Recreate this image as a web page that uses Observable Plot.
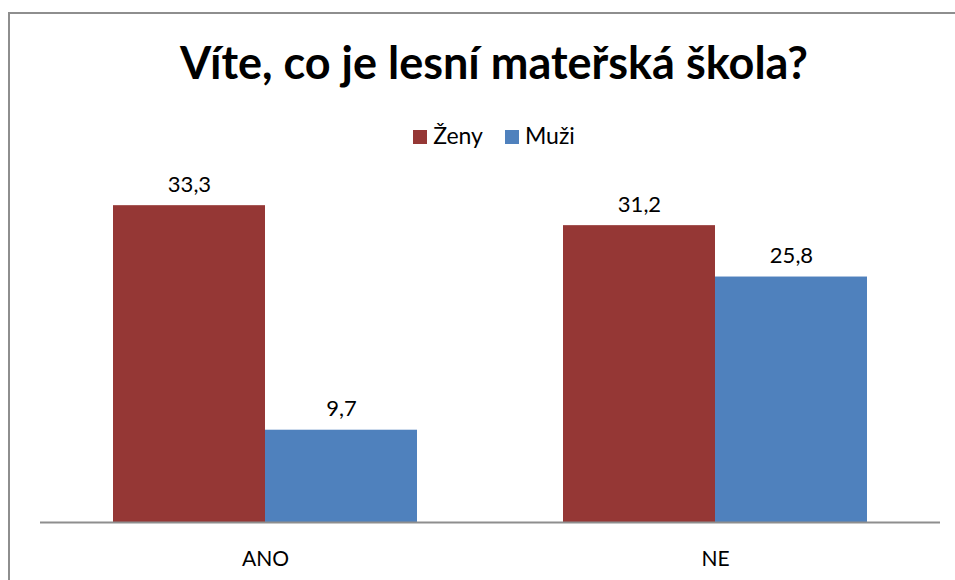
<!DOCTYPE html>
<html>
<head>
<meta charset="utf-8">
<script src="https://cdn.jsdelivr.net/npm/d3@7"></script>
<script src="https://cdn.jsdelivr.net/npm/@observablehq/plot@0.6"></script>
<style>
  html, body { margin: 0; padding: 0; background: #fff; overflow: hidden; }
  #wrap { position: relative; width: 955px; height: 580px; overflow: hidden; font-family: Lato, "Open Sans", sans-serif; }
  #frame { position: absolute; left: 8px; top: 12px; width: 1000px; height: 700px; border: 2px solid #8e8e8e; box-sizing: border-box; }
  #title { position: absolute; left: 0; width: 988px; top: 40px; text-align: center; font-size: 45px; font-weight: bold; line-height: 1; color: #000; white-space: nowrap; }
  #legend { position: absolute; left: 0; width: 988px; top: 124px; text-align: center; font-size: 23px; line-height: 1; color: #000; white-space: nowrap; }
  #legend .sw { display: inline-block; width: 14px; height: 14px; vertical-align: baseline; margin-right: 6px; }
  #legend .item { margin: 0 11px; }
  #chart { position: absolute; left: 0; top: 0; }
</style>
</head>
<body>
<div id="wrap">
  <div id="frame"></div>
  <div id="chart"></div>
  <div id="title"></div>
  <div id="legend"></div>
</div>
<script>
const titleText = "Víte, co je lesní mateřská škola?";
const categories = ["ANO", "NE"];
const series = ["Ženy", "Muži"];
const zenyValues = [33.3, 31.2];
const muziValues = [9.7, 25.8];
const colors = ["#953735", "#4F81BD"];

const data = [];
categories.forEach((c, i) => {
  data.push({category: c, series: series[0], value: zenyValues[i]});
  data.push({category: c, series: series[1], value: muziValues[i]});
});

const fmt = v => v.toFixed(1).replace(".", ",");

document.getElementById("title").textContent = titleText;
const legend = document.getElementById("legend");
series.forEach((s, i) => {
  const item = document.createElement("span");
  item.className = "item";
  const sw = document.createElement("span");
  sw.className = "sw";
  sw.style.background = colors[i];
  item.appendChild(sw);
  item.appendChild(document.createTextNode(s));
  legend.appendChild(item);
});

const chart = Plot.plot({
  width: 955,
  height: 580,
  marginLeft: 39,
  marginRight: 15,
  marginTop: 189,
  marginBottom: 58,
  style: {background: "transparent", fontFamily: "Lato, 'Open Sans', sans-serif"},
  fx: {domain: categories, padding: 0, axis: null},
  x: {domain: series, paddingInner: 0, paddingOuter: 0.477, axis: null},
  y: {domain: [0, 35], axis: null},
  color: {domain: series, range: colors},
  marks: [
    Plot.barY(data, {fx: "category", x: "series", y: "value", fill: "series"}),
    Plot.ruleY([0], {stroke: "#8e8e8e", strokeWidth: 2}),
    Plot.text(data, {fx: "category", x: "series", y: "value", text: d => fmt(d.value), lineAnchor: "bottom", dy: -14, fontSize: 22, fill: "#000"}),
    Plot.text(categories, {fx: d => d, frameAnchor: "bottom", text: d => d, lineAnchor: "bottom", dy: 43, fontSize: 21, fill: "#000"})
  ]
});
document.getElementById("chart").appendChild(chart);
</script>
</body>
</html>
